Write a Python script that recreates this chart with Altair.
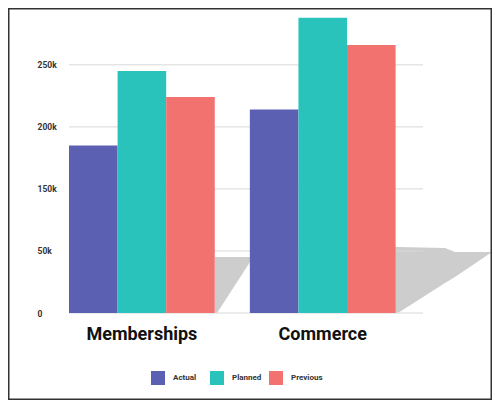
import altair as alt
import pandas as pd

# ---- data ----
categories = ["Memberships", "Commerce"]
series = ["Actual", "Planned", "Previous"]
actual = [185000, 214000]
planned = [245000, 288000]
previous = [224000, 266000]
colors = ["#5c60b2", "#2ac3bc", "#f2726f"]

# y axis as printed in the reference (labels as shown)
tick_values = [50000, 100000, 150000, 200000, 250000]
tick_labels = ["0", "50k", "150k", "200k", "250k"]
y_domain = [50000, 295000]

# decorative long shadows behind the bar groups
# (x as fraction of plot width, top/bottom in value units)
shadow_group = ["m", "m", "m", "c", "c", "c", "c", "c"]
shadow_x = [0.4124, 0.4181, 0.5141, 0.9209, 0.9294, 1.0621, 1.0904, 1.1949]
shadow_top = [95100, 95100, 95100, 103200, 103200, 102400, 99200, 99200]
shadow_bottom = [50000, 50000, 92300, 50000, 50000, 74200, 79000, 99200]

FONT = "Roboto"

rows = []
for i, c in enumerate(categories):
    for s, vals in zip(series, [actual, planned, previous]):
        rows.append({"category": c, "series": s, "value": vals[i]})
bars_df = pd.DataFrame(rows)

shadow_df = pd.DataFrame({"g": shadow_group, "x": shadow_x,
                          "top": shadow_top, "bottom": shadow_bottom})
grid_df = pd.DataFrame({"v": tick_values})

label_expr = " : ".join(
    f"datum.value == {v} ? '{l}'" for v, l in zip(tick_values, tick_labels)
) + " : ''"

yscale = alt.Scale(domain=y_domain, nice=False, zero=False)
yaxis = alt.Axis(title=None, values=tick_values, labelExpr=label_expr,
                 grid=False, ticks=False, domain=False,
                 labelAlign="left", labelPadding=32,
                 labelFont=FONT, labelFontSize=8.5, labelFontWeight="bold",
                 labelColor="#333333")

W, H = 354, 304

shadow = alt.Chart(shadow_df).mark_area(color="#cdcdcd", opacity=1).encode(
    x=alt.X("x:Q", scale=alt.Scale(domain=[0, 1], nice=False, zero=False), axis=None),
    y=alt.Y("top:Q", scale=yscale, axis=yaxis),
    y2="bottom:Q",
    detail="g:N",
)

grid = alt.Chart(grid_df).mark_rule(color="#d8d8d8", strokeWidth=1).encode(
    y=alt.Y("v:Q", scale=yscale, axis=yaxis),
    x=alt.value(0),
    x2=alt.value(W),
)

bars = alt.Chart(bars_df).mark_bar().encode(
    x=alt.X("category:N", sort=categories,
            scale=alt.Scale(paddingInner=0.194, paddingOuter=0.0757, align=0),
            axis=alt.Axis(title=None, labelAngle=0, ticks=False, domain=False,
                          labelFont=FONT, labelFontSize=18, labelFontWeight="bold",
                          labelColor="#111111", labelPadding=12)),
    xOffset=alt.XOffset("series:N", sort=series,
                        scale=alt.Scale(paddingInner=0, paddingOuter=0)),
    y=alt.Y("value:Q", scale=yscale, axis=yaxis),
    y2=alt.Y2(datum=y_domain[0]),
    color=alt.Color("series:N", sort=series,
                    scale=alt.Scale(domain=series, range=colors),
                    legend=alt.Legend(title=None, orient="none", legendX=82, legendY=362,
                                      direction="horizontal", columns=3,
                                      symbolType="square", symbolSize=196,
                                      symbolStrokeWidth=0, labelOffset=8,
                                      columnPadding=5, gridAlign="all",
                                      labelFont=FONT, labelFontSize=8,
                                      labelFontWeight="bold", labelColor="#333333")),
)

frame = alt.Chart(pd.DataFrame({"a": [0]})).mark_rect(
    fill="transparent", stroke="#333333", strokeWidth=1.5
).encode(
    x=alt.value(-60.25), x2=alt.value(W + 68.25),
    y=alt.value(-0.25), y2=alt.value(H + 86.25),
)

chart = alt.layer(shadow, grid, bars, frame).resolve_scale(
    x="independent"
).properties(
    width=W, height=H,
    padding={"left": 61, "top": 1, "right": 69, "bottom": 87},
    autosize=alt.AutoSizeParams(type="none"),
).configure_view(stroke=None)

chart.save("out.html", embed_options={"renderer": "svg", "actions": False})
